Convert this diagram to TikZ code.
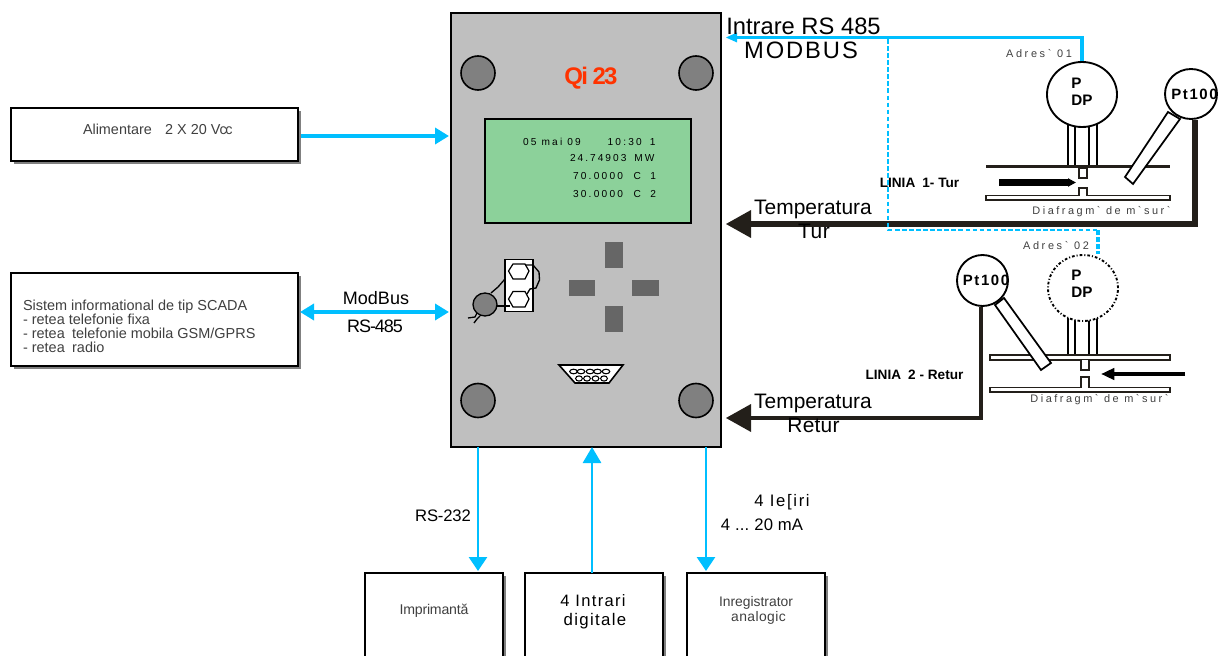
\documentclass[tikz,border=0pt]{standalone}
\usepackage{fontspec}
\setmainfont{Liberation Sans}[Ligatures=TeXOff]
\usetikzlibrary{arrows.meta,shadows,calc,shapes.geometric}
\definecolor{cy}{HTML}{00BFFF}
\definecolor{dk}{HTML}{231F1A}
\definecolor{bodyc}{HTML}{BFBFBF}
\definecolor{lcd}{HTML}{8CD19A}
\definecolor{knob}{HTML}{808080}
\definecolor{keyc}{HTML}{666666}
\definecolor{txtg}{HTML}{404040}
\definecolor{qi}{HTML}{FF3300}
\newcommand{\fsz}[2]{\fontsize{#1}{#1}\selectfont\addfontfeature{LetterSpace=#2}}
\tikzset{
  pbox/.style 2 args={rectangle,inner sep=0pt,outer sep=0pt,minimum width=#1*0.75pt,minimum height=#2*0.75pt},
  shbox/.style={draw=black,line width=1.5pt,fill=white,general shadow={shadow xshift=2.25pt,shadow yshift=-2.25pt,fill=knob}},
  lab/.style={inner sep=0pt,outer sep=0pt,align=center},
  grey/.style={lab,text=txtg},
  knobc/.style={circle,draw=black,line width=1.2pt,fill=knob,minimum size=34*0.75pt,inner sep=0pt},
  keyb/.style={fill=keyc,draw=none},
  cline/.style={draw=cy,line width=3pt},
  cthin/.style={draw=cy,line width=2.1pt},
  dashcy/.style={draw=cy,line width=1.8pt,dash pattern=on 3.5pt off 1.8pt},
  gauge/.style={ellipse,draw=black,line width=1.4pt,fill=white,inner sep=0pt},
  tube/.style={draw=black,line width=1.3pt},
  pipe/.style={draw=dk,fill=white,line width=1.1pt},
  gtext/.style={lab,align=left,font=\bfseries\fontsize{11.4}{13}\selectfont},
}
\begin{document}
\begin{tikzpicture}[x=0.75pt,y=-0.75pt]
\useasboundingbox (0,0) rectangle (1222,656);
\clip (0,0) rectangle (1222,656);
% main body
\node[pbox={270}{434},draw=black,line width=1.5pt,fill=bodyc] (main) at (586,230) {};
\node[knobc] (k1) at (478,73) {};
\node[knobc] (k2) at (696,73) {};
\node[knobc] (k3) at (478,400.5) {};
\node[knobc] (k4) at (696,400.5) {};
\node[lab,text=qi] (qi) at (590,78) {\fsz{18}{-8}\textbf{Qi 23}};
\node[pbox={206}{104},draw=black,line width=1.2pt,fill=lcd] (disp) at (588,171) {};
\node[lab,anchor=west] (l1) at (523,142) {\fsz{7.6}{22}05 mai 09\hspace{20pt}10:30\hspace{6pt}1};
\node[lab,anchor=west] (l2) at (570,158) {\fsz{7.6}{20}24.74903\hspace{6pt}MW};
\node[lab,anchor=west] (l3) at (573,176) {\fsz{7.6}{22}70.0000\hspace{8pt}C\hspace{7pt}1};
\node[lab,anchor=west] (l4) at (573,194) {\fsz{7.6}{22}30.0000\hspace{8pt}C\hspace{7pt}2};
\fill[keyb] (605,242) rectangle (623,268);
\fill[keyb] (569,280) rectangle (595,296);
\fill[keyb] (632,280) rectangle (659,296);
\fill[keyb] (605,306) rectangle (623,332);
% key symbol
\draw[black,line width=1.2pt,fill=white] (505,259.5) rectangle (533,311.5);
\draw[black,line width=0.9pt] (508.5,271) -- (513,264) -- (525,264) -- (529,271) -- (525,279) -- (513,279) -- cycle;
\draw[black,line width=0.9pt] (508.5,299) -- (513,291.5) -- (525,291.5) -- (529,299) -- (525,307) -- (513,307) -- cycle;
\draw[black,line width=1pt] (525,265) -- (533,265) -- (539,272) -- (539.5,280) -- (536,288) -- (530,289) -- (527,294);
\draw[black,line width=1pt] (491,293) -- (498,287) -- (505,279);
\draw[black,line width=1pt] (496,306) -- (510,306);
\draw[black,line width=1pt,fill=knob] (485,304.5) ellipse (12 and 11.5);
\draw[black,line width=1pt] (477,313) -- (475,317) -- (468,318);
\draw[black,line width=1pt] (480,316) -- (477,319) -- (474,323);
% connector
\draw[black,line width=1.2pt,fill=white] (559,365) -- (623,365) -- (609,383) -- (575,383) -- cycle;
\foreach \xx in {573.5,581,590,597.5,606} \draw[black,line width=0.8pt,fill=white] (\xx,371.5) ellipse (3.8 and 2.3);
\foreach \xx in {579,587,595.5,604} \draw[black,line width=0.8pt,fill=white] (\xx,378.5) ellipse (3.4 and 2.6);
% left boxes
\node[pbox={287}{53},shbox] (sup) at (154.5,134.5) {};
\node[grey,anchor=west] (suptx) at (83,129) {\fsz{10.8}{0}Alimentare\hspace{10pt}2 X 20 V\kern-0.6pt c\kern-1pt c};
\node[pbox={287}{93},shbox] (sca) at (154.5,319.5) {};
\node[grey,anchor=north west,align=left,font=\fontsize{10.85}{10.5}\selectfont] (scatx) at (23,300) {Sistem informational de tip SCADA\\- retea telefonie fixa\\- retea\hspace{2.5pt} telefonie mobila GSM/GPRS\\- retea\hspace{2.5pt} radio};
\coordinate (mainL1) at (449,136);
\coordinate (mainL2) at (449,312);
\draw[cline,-{Triangle[length=10.5pt,width=12pt,fill=cy]}] ($(sup.east |- mainL1)+(3,0)$) -- (mainL1);
\draw[cline,{Triangle[length=10.5pt,width=12pt]}-{Triangle[length=10.5pt,width=12pt]},cy] ($(sca.east |- mainL2)+(2,0)$) -- (mainL2);
\node[lab] (mb) at (376,298) {\fsz{13.5}{0}ModBus};
\node[lab] (rs485) at (375,326) {\fsz{13.5}{-6}RS-485};
% bottom boxes
\node[pbox={138}{127},shbox] (imp) at (434,636.5) {};
\node[pbox={138}{127},shbox] (dig) at (594,636.5) {};
\node[pbox={138}{127},shbox] (inr) at (756,636.5) {};
\coordinate (b1) at (478,0);
\coordinate (b2) at (592,0);
\coordinate (b3) at (706,0);
\draw[cthin,cy,-{Triangle[length=10.5pt,width=13.5pt]}] (main.south -| b1) -- ($(imp.north -| b1)+(0,-2)$);
\draw[cthin,cy,-{Triangle[length=12pt,width=13.5pt]}] (dig.north -| b2) -- (main.south -| b2);
\draw[cthin,cy,-{Triangle[length=10.5pt,width=13.5pt]}] (main.south -| b3) -- ($(inr.north -| b3)+(0,-2)$);
\node[lab] (rs232) at (443,516) {\fsz{12.5}{-1}RS-232};
\node[lab] (ies) at (782,502) {\fsz{12.5}{10}4 Ie[iri};
\node[lab] (ma) at (762,525) {\fsz{12.5}{1}4 ...\hspace{-1pt} 20 mA};
\node[grey] (imptx) at (434,611) {\fsz{10.6}{-1.5}Imprimantă};
\node[lab] (digt) at (593,601) {\fsz{12.4}{8}4 Intrari};
\node[lab] (digt2) at (595,621) {\fsz{12.6}{8}digitale};
\node[grey] (inrt) at (756,603) {\fsz{10.4}{0}Inregistrator};
\node[grey] (inrt2) at (758.5,618) {\fsz{10.4}{3}analogic};
% line 1
\foreach \xx in {1068,1075,1089,1097} \draw[tube] (\xx,118) -- (\xx,166);
\node[gauge,minimum width=70*0.75pt,minimum height=65*0.75pt] (dp1) at (1082,94.5) {};
\node[gtext] (dp1t) at (1082,91.5) {P\\DP};
\node[gauge,minimum width=52*0.75pt,minimum height=50*0.75pt] (pt1) at (1191,94) {};
\node[lab,font=\bfseries] (pt1t) at (1194.5,94) {\fsz{11.2}{11}Pt100};
\draw[dk,line width=2.6pt] (986,166.5) -- (1170,166.5);
\draw[pipe] (986,195.5) rectangle (1170,200);
\draw[pipe] (1079,168) rectangle (1087,178);
\draw[pipe] (1079,196) -- (1079,188) -- (1087,188) -- (1087,196);
\draw[black,line width=5pt,-{Triangle[length=6pt,width=6pt]}] (999,182.5) -- (1076,182.5);
\draw[tube,fill=white] (1168,112) -- (1180,119) -- (1133,184) -- (1125,177) -- cycle;
\coordinate (out1) at (726,224);
\coordinate (pt1c) at (1195,224);
\draw[dk,line width=3.8pt,line join=miter] ($(pt1.south)+(4,0)$) -- (pt1c) -- ($(out1)+(20,0)$);
\fill[dk] (726,224) -- (751,210) -- (751,238) -- cycle;
\node[lab] (temp1) at (813,209) {\fsz{15.7}{0}Temperatura};
\node[lab] (tur) at (814,231) {\fsz{15.7}{3}Tur};
\node[lab,font=\bfseries] (lin1) at (919.5,183) {\fsz{10.2}{0}LINIA\hspace{2.5pt} 1- Tur};
\node[lab,text=txtg] (ad1) at (1039,54) {\fsz{8.2}{24}Adres` 01};
\node[lab,text=txtg] (dia1) at (1101.5,212) {\fsz{8.2}{23}Diafragm` de m`sur`};
% rs485
\coordinate (rsin) at (726,37.5);
\coordinate (rsc) at (1082,37.5);
\draw[cy,line width=2.6pt] (dp1.north) -- (rsc) -- ($(rsin)+(8,0)$);
\fill[cy] (726,37.5) -- (737,32.5) -- (737,42.5) -- cycle;
\coordinate (d1) at (888,39);
\coordinate (d2) at (888,230);
\coordinate (d3) at (1098,230);
\node[gauge,draw=none,fill=none,minimum width=70*0.75pt,minimum height=66*0.75pt] (dp2) at (1083,288) {};
\draw[dashcy] (d1) -- (d2) -- (d3);
\draw[dashcy,line width=3pt] (d3) -- (d3 |- dp2.north);
\node[lab] (rstx) at (803.5,26) {\fsz{17.8}{0}Intrare RS 485};
\node[lab] (mbus) at (801,50) {\fsz{17.8}{8}MODBUS};
% line 2
\foreach \xx in {1068,1075,1089,1097} \draw[tube] (\xx,312) -- (\xx,355);
\node[gauge,minimum width=70*0.75pt,minimum height=66*0.75pt,dash pattern=on 2pt off 1.5pt on 0.8pt off 1.5pt] (dp2b) at (1083,288) {};
\node[gtext] (dp2t) at (1082,284) {P\\DP};
\node[gauge,minimum width=51*0.75pt,minimum height=51*0.75pt] (pt2) at (982.5,280.5) {};
\node[lab,font=\bfseries] (pt2t) at (986,280.5) {\fsz{11.2}{11}Pt100};
\draw[pipe] (990,355) rectangle (1170,360);
\draw[pipe] (990,387.5) rectangle (1170,392);
\draw[pipe] (1081,360) -- (1081,370) -- (1089,370) -- (1089,360);
\draw[pipe] (1081,387.5) -- (1081,377) -- (1089,377) -- (1089,387.5);
\coordinate (ar2s) at (1185,374);
\coordinate (ar2e) at (1101,374);
\draw[black,line width=3pt,-{Triangle[length=10pt,width=8.5pt]}] (ar2s) -- (ar2e);
\draw[tube,fill=white] (1004,298) -- (995,305) -- (1041,370) -- (1051,363) -- cycle;
\coordinate (out2) at (726,418);
\coordinate (pt2c) at (981,418);
\draw[dk,line width=3pt] (pt2.south -| pt2c) -- (pt2c) -- ($(out2)+(20,0)$);
\fill[dk] (726,418) -- (751,404) -- (751,432) -- cycle;
\node[lab] (temp2) at (813,403) {\fsz{15.7}{0}Temperatura};
\node[lab] (ret) at (813.5,425) {\fsz{15.7}{1}Retur};
\node[lab,font=\bfseries] (lin2) at (914.5,375) {\fsz{10.2}{0}LINIA\hspace{2.5pt} 2 - Retur};
\node[lab,text=txtg] (ad2) at (1056,246) {\fsz{8.2}{24}Adres` 02};
\node[lab,text=txtg] (dia2) at (1099.5,400) {\fsz{8.2}{23}Diafragm` de m`sur`};
\end{tikzpicture}
\end{document}
